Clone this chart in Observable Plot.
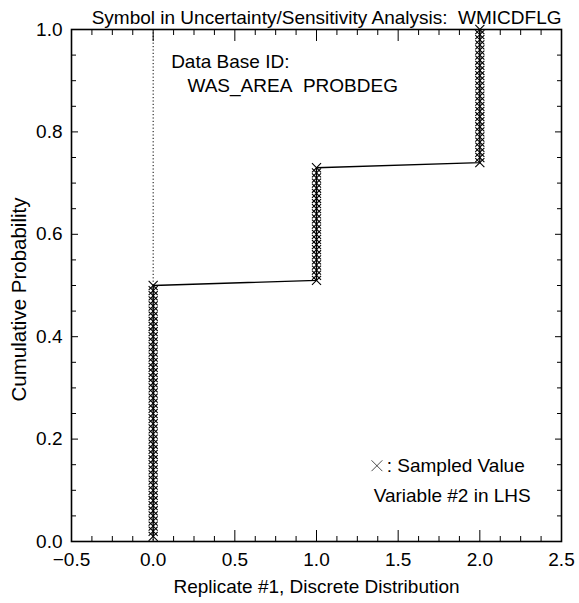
<!DOCTYPE html>
<html><head><meta charset="utf-8">
<script src="https://cdn.jsdelivr.net/npm/d3@7"></script>
<script src="https://cdn.jsdelivr.net/npm/@observablehq/plot@0.6"></script>
<style>
body{margin:0;background:#fff;}
#chart svg{font-family:"Liberation Sans", Arial, Helvetica, sans-serif; background:#fff;}
</style>
</head><body><div id="chart"></div>
<script>
// Discrete sampled values and the number of LHS samples (of 100) at each value
const sampledValues = [0, 1, 2];
const sampleCounts = [50, 23, 27];

const xMajorTicks = [-0.5, 0, 0.5, 1, 1.5, 2, 2.5];
const xMinorTicks = [-0.375, -0.25, -0.125, 0.125, 0.25, 0.375, 0.625, 0.75, 0.875,
  1.125, 1.25, 1.375, 1.625, 1.75, 1.875, 2.125, 2.25, 2.375];
const yMajorTicks = [0, 0.2, 0.4, 0.6, 0.8, 1.0];
const yMinorTicks = [0.05, 0.1, 0.15, 0.25, 0.3, 0.35, 0.45, 0.5, 0.55, 0.65, 0.7, 0.75, 0.85, 0.9, 0.95];

const titleText = "Symbol in Uncertainty/Sensitivity Analysis:\u00a0\u00a0WMICDFLG";
const xLabel = "Replicate #1, Discrete Distribution";
const yLabel = "Cumulative Probability";
const noteLines = ["Data Base ID:", "WAS_AREA\u00a0\u00a0PROBDEG"];
const legendText = ": Sampled Value";
const lhsText = "Variable #2 in LHS";

// empirical CDF table built from the counts
const n = d3.sum(sampleCounts);
const ecdf = [];
let k = 0;
sampledValues.forEach((v, i) => {
  for (let j = 0; j < sampleCounts[i]; j++) { k++; ecdf.push({x: v, p: k / n}); }
});

const fmt = d3.format(".1f");
const fs = 19;

const chart = Plot.plot({
  width: 579,
  height: 603,
  marginLeft: 71,
  marginRight: 18,
  marginTop: 29,
  marginBottom: 62,
  style: {fontSize: fs + "px", color: "#000"},
  x: {domain: [-0.5, 2.5]},
  y: {domain: [0, 1]},
  marks: [
    // inward ticks, all four sides
    Plot.axisX(xMinorTicks, {anchor: "bottom", tickSize: 5, dy: -5, text: null, label: null}),
    Plot.axisX(xMajorTicks, {anchor: "bottom", tickSize: 11, dy: -11, text: null, label: null}),
    Plot.axisX(xMinorTicks, {anchor: "top", tickSize: 5, dy: 5, text: null, label: null}),
    Plot.axisX(xMajorTicks, {anchor: "top", tickSize: 11, dy: 11, text: null, label: null}),
    Plot.axisY(yMinorTicks, {anchor: "left", tickSize: 5, dx: 5, text: null, label: null}),
    Plot.axisY(yMajorTicks, {anchor: "left", tickSize: 7, dx: 7, text: null, label: null}),
    Plot.axisY(yMinorTicks, {anchor: "right", tickSize: 5, dx: -5, text: null, label: null}),
    Plot.axisY(yMajorTicks, {anchor: "right", tickSize: 7, dx: -7, text: null, label: null}),
    // tick labels
    Plot.axisX(xMajorTicks, {anchor: "bottom", tickSize: 0, tickPadding: 11, tickFormat: fmt, fontSize: fs, label: null}),
    Plot.axisY(yMajorTicks, {anchor: "left", tickSize: 0, tickPadding: 9, tickFormat: fmt, fontSize: fs, label: null}),
    Plot.frame({stroke: "#000", strokeWidth: 1.6}),
    Plot.ruleX([0], {stroke: "#000", strokeWidth: 1, strokeDasharray: "1.2,2.2"}),
    Plot.line(ecdf, {x: "x", y: "p", stroke: "#000", strokeWidth: 1.4}),
    Plot.dot(ecdf, {x: "x", y: "p", symbol: "times", r: 4.2, stroke: "#000", strokeWidth: 1.1}),
    // title and axis titles
    Plot.text([titleText], {frameAnchor: "top-right", textAnchor: "end", lineAnchor: "middle", dy: -12, fontSize: fs}),
    Plot.text([xLabel], {frameAnchor: "bottom", lineAnchor: "middle", dy: 45, fontSize: fs}),
    Plot.text([yLabel], {frameAnchor: "left", rotate: -90, textAnchor: "middle", lineAnchor: "middle", dx: -52, dy: 14, fontSize: 20.5}),
    // annotations
    Plot.text([noteLines[0]], {x: 0.11, y: 0.9375, textAnchor: "start", fontSize: fs}),
    Plot.text([noteLines[1]], {x: 0.21, y: 0.889, textAnchor: "start", fontSize: fs}),
    Plot.dot([0], {x: 1.37, y: 0.148, symbol: "times", r: 5, stroke: "#000", strokeWidth: 0.7}),
    Plot.text([legendText], {x: 1.43, y: 0.148, textAnchor: "start", fontSize: fs}),
    Plot.text([lhsText], {x: 1.35, y: 0.09, textAnchor: "start", fontSize: fs})
  ]
});
document.getElementById("chart").appendChild(chart);
</script>
</body></html>
